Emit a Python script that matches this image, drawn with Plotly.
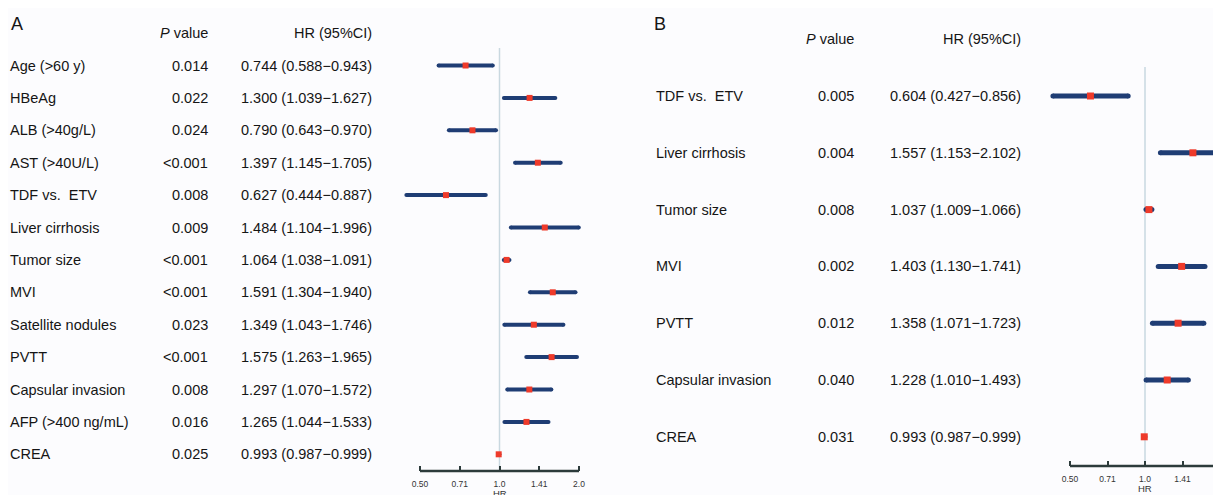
import math
import plotly.graph_objects as go

# ---------------- data ----------------
A_labels = ["Age (>60 y)", "HBeAg", "ALB (>40g/L)", "AST (>40U/L)", "TDF vs.  ETV",
            "Liver cirrhosis", "Tumor size", "MVI", "Satellite nodules", "PVTT",
            "Capsular invasion", "AFP (>400 ng/mL)", "CREA"]
A_p = ["0.014", "0.022", "0.024", "<0.001", "0.008", "0.009", "<0.001", "<0.001",
       "0.023", "<0.001", "0.008", "0.016", "0.025"]
A_hr = [0.744, 1.300, 0.790, 1.397, 0.627, 1.484, 1.064, 1.591, 1.349, 1.575, 1.297, 1.265, 0.993]
A_lo = [0.588, 1.039, 0.643, 1.145, 0.444, 1.104, 1.038, 1.304, 1.043, 1.263, 1.070, 1.044, 0.987]
A_hi = [0.943, 1.627, 0.970, 1.705, 0.887, 1.996, 1.091, 1.940, 1.746, 1.965, 1.572, 1.533, 0.999]

B_labels = ["TDF vs.  ETV", "Liver cirrhosis", "Tumor size", "MVI", "PVTT",
            "Capsular invasion", "CREA"]
B_p = ["0.005", "0.004", "0.008", "0.002", "0.012", "0.040", "0.031"]
B_hr = [0.604, 1.557, 1.037, 1.403, 1.358, 1.228, 0.993]
B_lo = [0.427, 1.153, 1.009, 1.130, 1.071, 1.010, 0.987]
B_hi = [0.856, 2.102, 1.066, 1.741, 1.723, 1.493, 0.999]

tick_vals = [0.5, 0.7071, 1.0, 1.4142, 2.0]
tick_text = ["0.50", "0.71", "1.0", "1.41", "2.0"]
null_hr = 1.0

# ---------------- styling ----------------
# the page body has an 8px margin; the figure is sized to fill the rest of the window
OX, OY = 8, 8
W, H = 1221 - OX, 495 - OY
FONT = "Liberation Sans, Arial, Helvetica, sans-serif"
TXT = "#151515"
BAR = "#1f3d74"
PT = "#ee3a2a"
REF = "#c9d8e0"
AX = "#2c3b3b"
BG = "#fcfcfe"
FS = 14.5

def px(X):
    """window pixel x -> paper fraction"""
    return (X - OX) / W

def py(Y):
    """window pixel y -> paper fraction"""
    return 1 - (Y - OY) / H

fig = go.Figure()

def add_panel(labels, hr, lo, hi, xa, ya, lw, ms):
    rows = [-i for i in range(len(labels))]
    xs, ys = [], []
    for l, h, r in zip(lo, hi, rows):
        xs += [l, h, None]
        ys += [r, r, None]
    # CI bars with rounded ends (round end caps drawn as circles at the bar ends)
    fig.add_trace(go.Scatter(x=xs, y=ys, mode="lines+markers", xaxis=xa, yaxis=ya,
                             line=dict(color=BAR, width=lw),
                             marker=dict(symbol="circle", size=lw, color=BAR,
                                         line=dict(width=0)),
                             hoverinfo="skip", showlegend=False, cliponaxis=False))
    fig.add_trace(go.Scatter(x=hr, y=rows, mode="markers", xaxis=xa, yaxis=ya,
                             marker=dict(symbol="square", size=ms, color=PT,
                                         line=dict(width=0)),
                             showlegend=False, cliponaxis=False))
    return rows

rowsA = add_panel(A_labels, A_hr, A_lo, A_hi, "x", "y", 4, 6)
rowsB = add_panel(B_labels, B_hr, B_lo, B_hi, "x2", "y2", 5, 7)

ann = []
def text(x, y, s, anchor, yref, size=FS, xref="paper", color=TXT):
    ann.append(dict(x=x, y=y, xref=xref, yref=yref, text=s, showarrow=False,
                    xanchor=anchor, yanchor="middle", borderpad=0,
                    font=dict(family=FONT, size=size, color=color)))

# Panel A text
for lab, p, h, l, u, r in zip(A_labels, A_p, A_hr, A_lo, A_hi, rowsA):
    text(px(9), r, lab, "left", "y")
    text(px(209), r, p, "right", "y")
    text(px(373), r, f"{h:.3f} ({l:.3f}\u2212{u:.3f})", "right", "y")
text(px(209), 1.0, "<i>P</i> value", "right", "y")
text(px(373), 1.0, "HR (95%CI)", "right", "y")
text(px(10), py(24), "A", "left", "paper", size=18)
text(math.log10(null_hr), py(493), "HR", "center", "paper", size=9.5, xref="x", color="#333")

# Panel B text
for lab, p, h, l, u, r in zip(B_labels, B_p, B_hr, B_lo, B_hi, rowsB):
    text(px(655), r, lab, "left", "y2")
    text(px(855), r, p, "right", "y2")
    text(px(1022), r, f"{h:.3f} ({l:.3f}\u2212{u:.3f})", "right", "y2")
text(px(855), 1.0, "<i>P</i> value", "right", "y2")
text(px(1022), 1.0, "HR (95%CI)", "right", "y2")
text(px(653), py(24), "B", "left", "paper", size=18)
text(math.log10(null_hr), py(488), "HR", "center", "paper", size=9.5, xref="x2", color="#333")

shapes = [
    # reference lines at HR = 1
    dict(type="line", xref="x", yref="y domain", x0=null_hr, x1=null_hr, y0=0, y1=0.959,
         line=dict(color=REF, width=1.5), layer="below"),
    dict(type="line", xref="x2", yref="y2 domain", x0=null_hr, x1=null_hr, y0=0, y1=0.915,
         line=dict(color=REF, width=1.5), layer="below"),
    # axis lines spanning the tick range
    dict(type="line", xref="x", yref="y domain", x0=tick_vals[0], x1=tick_vals[-1],
         y0=0, y1=0, line=dict(color=AX, width=2.5)),
    dict(type="line", xref="x2", yref="y2 domain", x0=tick_vals[0], x1=tick_vals[-1],
         y0=0, y1=0, line=dict(color=AX, width=2.5)),
]

xcommon = dict(type="log", tickvals=tick_vals, ticktext=tick_text, ticks="inside",
               ticklen=5, tickwidth=1.5, tickcolor=AX, showline=False,
               showgrid=False, zeroline=False, fixedrange=True, automargin=False,
               ticklabelstandoff=6,
               tickfont=dict(family=FONT, size=8.5, color="#333"))
ycommon = dict(showgrid=False, zeroline=False, showticklabels=False, ticks="",
               showline=False, fixedrange=True, automargin=False)

fig.update_layout(
    width=W, height=H,
    margin=dict(l=0, r=0, t=0, b=0, autoexpand=False),
    paper_bgcolor=BG, plot_bgcolor="rgba(0,0,0,0)",
    showlegend=False,
    annotations=ann, shapes=shapes,
    xaxis=dict(domain=[px(400), px(590)], range=[-0.37676, 0.34268], anchor="y", **xcommon),
    yaxis=dict(domain=[py(471), py(30)], range=[-12.515, 1.096], anchor="x", **ycommon),
    xaxis2=dict(domain=[px(1040), 1.0], range=[-0.42144, 0.30505], anchor="y2", **xcommon),
    yaxis2=dict(domain=[py(466), py(30)], range=[-6.514, 1.162], anchor="x2", **ycommon),
)

fig.write_html("out.html")
